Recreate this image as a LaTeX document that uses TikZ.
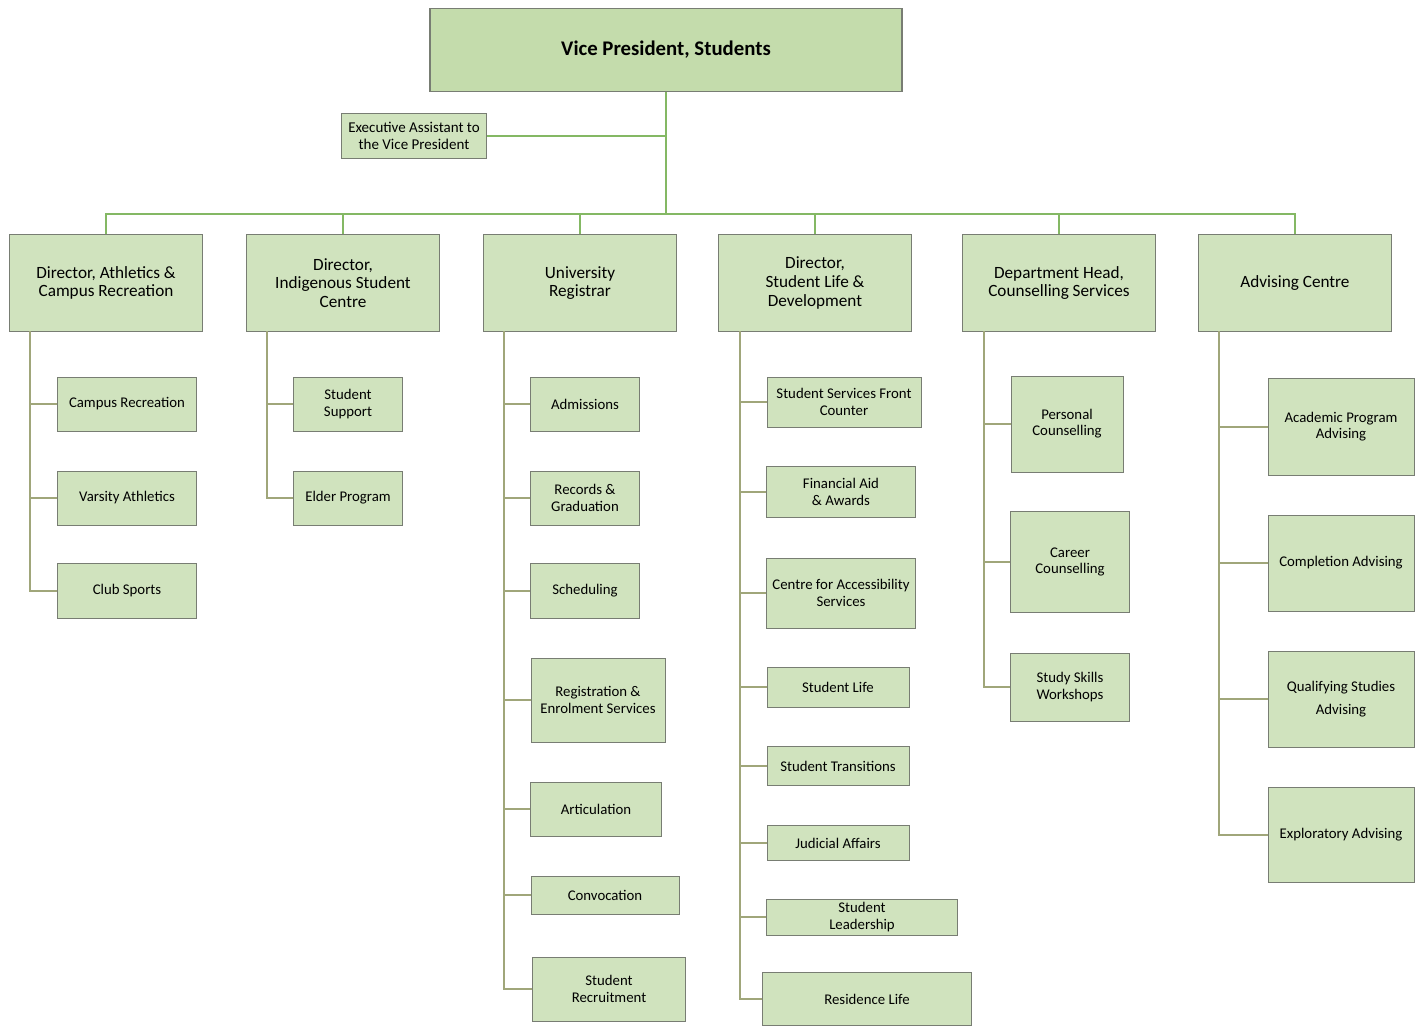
\documentclass[tikz,border=0pt]{standalone}
\usepackage{fontspec}
\setmainfont{Carlito}
\definecolor{boxgreen}{RGB}{208,227,190}
\definecolor{topgreen}{RGB}{196,220,172}
\definecolor{edgegray}{RGB}{120,125,115}
\definecolor{linegreen}{RGB}{132,184,100}
\definecolor{lineolive}{RGB}{160,166,122}
\newcommand{\px}{0.5pt}
\begin{document}
\begin{tikzpicture}[x=0.5pt, y=-0.5pt,
    vpbox/.style={draw=edgegray, fill=topgreen, line width=0.6pt, align=center,
      font=\fontsize{10.4}{12}\selectfont\bfseries, inner sep=0pt},
    headbox/.style={draw=edgegray, fill=boxgreen, line width=0.6pt, align=center,
      font=\fontsize{8.6}{9.3}\selectfont, inner sep=0pt,
      minimum width=193*\px, minimum height=97*\px},
    unitbox/.style={draw=edgegray, fill=boxgreen, line width=0.5pt, align=center,
      font=\fontsize{7.4}{8.1}\selectfont, inner sep=0pt},
    topline/.style={draw=linegreen, line width=1.1pt},
    subline/.style={draw=lineolive, line width=0.9pt}]
  \useasboundingbox (0,0) rectangle (1421,1025);

  % top of the chart
  \node[vpbox, minimum width=472*\px, minimum height=83*\px] (vp) at (666,50) {Vice President, Students};
  \node[unitbox, font=\fontsize{7.5}{8.5}\selectfont, minimum width=145*\px, minimum height=45*\px] (ea) at (414,136)
    {Executive Assistant to\\the Vice President};
  \coordinate (hub) at (666,214);

  \node[headbox] (ath) at (106,283) {Director, Athletics \&\\Campus Recreation};
  \node[headbox] (ind) at (343,283) {Director,\\Indigenous Student\\Centre};
  \node[headbox] (reg) at (580,283) {University\\Registrar};
  \node[headbox] (sld) at (815,283) {Director,\\Student Life \&\\Development};
  \node[headbox] (cou) at (1059,283) {Department Head,\\Counselling Services};
  \node[headbox] (adv) at (1295,283) {Advising Centre};

  \draw[topline] (vp.south) -- (hub);
  \draw[topline] (ea.east) -- (ea.east -| hub);
  \foreach \d in {ath,ind,reg,sld,cou,adv}
    \draw[topline] (hub) -| (\d.north);

  % athletics
  \coordinate (athx) at (30,331);
  \node[unitbox, minimum width=139*\px, minimum height=54*\px] (crec) at (127,404) {Campus Recreation};
  \node[unitbox, minimum width=139*\px, minimum height=54*\px] (vars) at (127,498) {Varsity Athletics};
  \node[unitbox, minimum width=139*\px, minimum height=55*\px] (club) at (127,591) {Club Sports};
  \foreach \c in {crec,vars,club}
    \draw[subline] (athx) |- (\c.west);

  % indigenous student centre
  \coordinate (indx) at (267,331);
  \node[unitbox, minimum width=109*\px, minimum height=54*\px] (ssup) at (348,404) {Student\\Support};
  \node[unitbox, minimum width=109*\px, minimum height=54*\px] (eldr) at (348,498) {Elder Program};
  \foreach \c in {ssup,eldr}
    \draw[subline] (indx) |- (\c.west);

  % registrar
  \coordinate (regx) at (504,331);
  \node[unitbox, minimum width=109*\px, minimum height=54*\px] (adms) at (585,404) {Admissions};
  \node[unitbox, minimum width=109*\px, minimum height=54*\px] (recg) at (585,498) {Records \&\\Graduation};
  \node[unitbox, minimum width=109*\px, minimum height=55*\px] (schd) at (585,591) {Scheduling};
  \node[unitbox, minimum width=134*\px, minimum height=84*\px] (rens) at (598,700) {Registration \&\\Enrolment Services};
  \node[unitbox, minimum width=131*\px, minimum height=54*\px] (artc) at (596,809) {Articulation};
  \node[unitbox, minimum width=148*\px, minimum height=38*\px] (conv) at (605,895) {Convocation};
  \node[unitbox, minimum width=153*\px, minimum height=64*\px] (srec) at (609,989) {Student\\Recruitment};
  \foreach \c in {adms,recg,schd,rens,artc,conv,srec}
    \draw[subline] (regx) |- (\c.west);

  % student life
  \coordinate (sldx) at (740,331);
  \node[unitbox, minimum width=154*\px, minimum height=50*\px] (sfc) at (844,402) {Student Services Front\\Counter};
  \node[unitbox, minimum width=149*\px, minimum height=51*\px] (fina) at (841,492) {Financial Aid\\\& Awards};
  \node[unitbox, minimum width=149*\px, minimum height=70*\px] (caccs) at (841,593) {Centre for Accessibility\\Services};
  \node[unitbox, minimum width=142*\px, minimum height=40*\px] (slife) at (838,687) {Student Life};
  \node[unitbox, minimum width=142*\px, minimum height=39*\px] (strn) at (838,766) {Student Transitions};
  \node[unitbox, minimum width=142*\px, minimum height=35*\px] (judi) at (838,843) {Judicial Affairs};
  \node[unitbox, minimum width=191*\px, minimum height=36*\px] (slead) at (862,917) {Student\\Leadership};
  \node[unitbox, minimum width=209*\px, minimum height=53*\px] (resl) at (867,999) {Residence Life};
  \foreach \c in {sfc,fina,caccs,slife,strn,judi,slead,resl}
    \draw[subline] (sldx) |- (\c.west);

  % counselling
  \coordinate (coux) at (984,331);
  \node[unitbox, minimum width=112*\px, minimum height=96*\px] (pcou) at (1067,424) {Personal\\Counselling};
  \node[unitbox, minimum width=119*\px, minimum height=101*\px] (ccou) at (1070,562) {Career\\Counselling};
  \node[unitbox, minimum width=119*\px, minimum height=68*\px] (sskw) at (1070,687) {Study Skills\\Workshops};
  \foreach \c in {pcou,ccou,sskw}
    \draw[subline] (coux) |- (\c.west);

  % advising centre
  \coordinate (advx) at (1219,331);
  \node[unitbox, minimum width=146*\px, minimum height=97*\px] (apad) at (1341,427) {Academic Program\\Advising};
  \node[unitbox, minimum width=146*\px, minimum height=96*\px] (cadv) at (1341,563) {Completion Advising};
  \node[unitbox, minimum width=146*\px, minimum height=96*\px, font=\fontsize{7.4}{11.5}\selectfont] (qsad) at (1341,699) {Qualifying Studies\\Advising};
  \node[unitbox, minimum width=146*\px, minimum height=95*\px] (eadv) at (1341,835) {Exploratory Advising};
  \foreach \c in {apad,cadv,qsad,eadv}
    \draw[subline] (advx) |- (\c.west);
\end{tikzpicture}
\end{document}
